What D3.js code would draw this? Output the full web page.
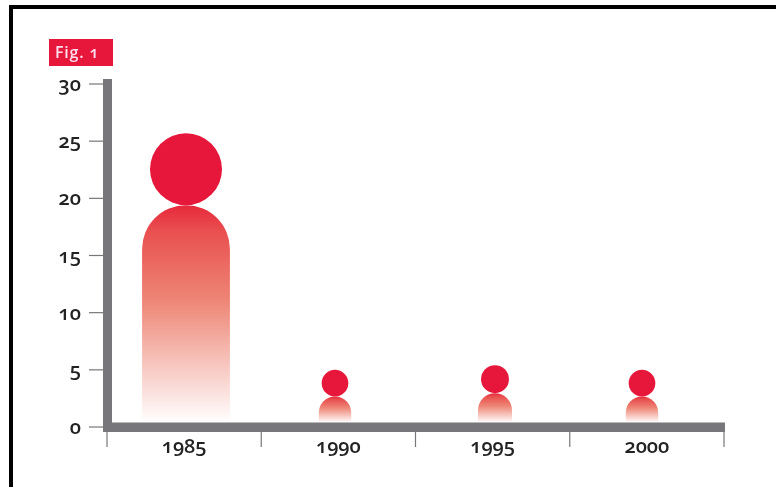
<!DOCTYPE html>
<html>
<head>
<meta charset="utf-8">
<script src="https://cdn.jsdelivr.net/npm/d3@7"></script>
<style>
  html, body { margin: 0; background: #fff; }
  svg { display: block; filter: blur(0.45px); }
  .frame { fill: none; stroke: #000; stroke-width: 4; }
  .tick-label { font-family: "Open Sans", sans-serif; font-size: 20px; font-weight: 600; fill: #222; font-feature-settings: "onum" 1; font-variant-numeric: oldstyle-nums; }
</style>
</head>
<body>
<svg id="chart" width="776" height="487"></svg>
<script>
const years = ["1985", "1990", "1995", "2000"];
const values = [25.7, 5.0, 5.4, 5.0];
const yTicks = [0, 5, 10, 15, 20, 25, 30];
const figLabel = "Fig. 1";

const red = "#e6173a";
const grey = "#77777b";

const svg = d3.select("#chart");

// Frame: only the top and left edges show
svg.append("path")
  .attr("class", "frame")
  .attr("d", "M11,487V7H776");

// Scales
const y = d3.scaleLinear().domain([0, 30]).range([427, 84]);
const x = d3.scaleBand().domain(years).range([107, 724]);
// figures sit a little off the band centres in the original
const figureX = d3.scaleOrdinal().domain(years).range([186, 335, 495, 642]);
// figures grow slower than their height
const headRadius = d3.scalePow().exponent(0.6).domain([5, 25.7]).range([13.3, 36]);

const defs = svg.append("defs");
const grad = defs.append("linearGradient")
  .attr("id", "fade")
  .attr("x1", 0).attr("y1", 0).attr("x2", 0).attr("y2", 1);
grad.append("stop").attr("offset", "0%").attr("stop-color", "#e6283c");
grad.append("stop").attr("offset", "12%").attr("stop-color", "#e9504f");
grad.append("stop").attr("offset", "44%").attr("stop-color", "#ee8676");
grad.append("stop").attr("offset", "100%").attr("stop-color", "#ffffff");

const baseY = 422.5;

// Figures
const people = svg.selectAll(".person")
  .data(values)
  .enter().append("g")
  .attr("class", "person")
  .attr("transform", (d, i) => `translate(${figureX(years[i])},0)`);

people.append("path")
  .attr("fill", "url(#fade)")
  .attr("d", d => {
    const r = headRadius(d);
    const w = r * 2.44 / 2;
    const top = y(d) + r * 2;
    return `M${-w},${baseY}V${top + w}A${w},${w} 0 0 1 ${w},${top + w}V${baseY}Z`;
  });

people.append("circle")
  .attr("fill", red)
  .attr("cx", 0)
  .attr("cy", d => y(d) + headRadius(d))
  .attr("r", d => headRadius(d));

// Axes
const yAxis = svg.append("g");
yAxis.selectAll("line")
  .data(yTicks)
  .enter().append("line")
  .attr("x1", 89).attr("x2", 104)
  .attr("y1", d => y(d)).attr("y2", d => y(d))
  .attr("stroke", grey).attr("stroke-width", 1.2);
yAxis.selectAll("text")
  .data(yTicks)
  .enter().append("text")
  .attr("class", "tick-label")
  .attr("x", 81)
  .attr("y", d => y(d) + 7)
  .attr("text-anchor", "end")
  .text(d => d);

const xEdges = [107].concat(years.map(yr => x(yr) + x.bandwidth()));
svg.append("g").selectAll("line")
  .data(xEdges)
  .enter().append("line")
  .attr("x1", d => d).attr("x2", d => d)
  .attr("y1", 430).attr("y2", 447)
  .attr("stroke", grey).attr("stroke-width", 1.2);
svg.append("g").selectAll("text")
  .data(years)
  .enter().append("text")
  .attr("class", "tick-label")
  .attr("x", d => x(d) + x.bandwidth() / 2)
  .attr("y", 453)
  .attr("text-anchor", "middle")
  .text(d => d);

// Thick axis bars
svg.append("rect").attr("x", 103).attr("y", 79).attr("width", 9).attr("height", 353).attr("fill", grey);
svg.append("rect").attr("x", 103).attr("y", 422.5).attr("width", 622).attr("height", 9.5).attr("fill", grey);

// Figure tag
svg.append("rect").attr("x", 49).attr("y", 39).attr("width", 64).attr("height", 27).attr("fill", red);
svg.append("text")
  .attr("x", 55).attr("y", 58)
  .attr("fill", "#fde")
  .style("font-family", '"Open Sans", sans-serif')
  .style("font-size", "16px")
  .style("font-weight", "600")
  .style("letter-spacing", "0.8px")
  .style("font-feature-settings", '"onum" 1')
  .text(figLabel);
</script>
</body>
</html>
